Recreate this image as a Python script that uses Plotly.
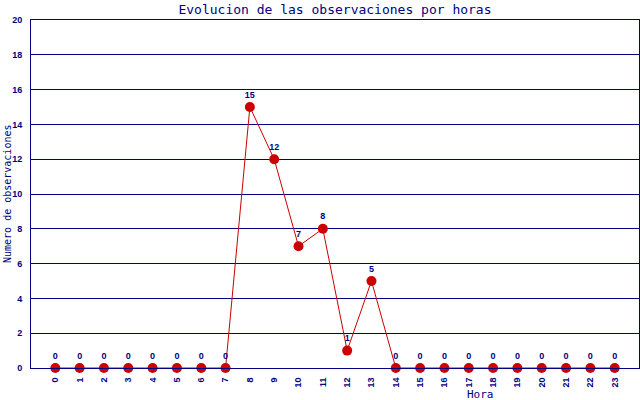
import plotly.graph_objects as go

# =====================================
# DATA
# =====================================

horas = list(range(24))

observaciones = [
    0, 0, 0, 0, 0, 0, 0, 0,
    15, 12, 7, 8, 1, 5,
    0, 0, 0, 0, 0, 0, 0, 0, 0, 0
]

hora_labels = [str(h) for h in horas]

NAVY = "#000080"
RED = "#cc0000"

# plot area in pixels (from the reference)
PLOT_LEFT = 31
PLOT_WIDTH = 608
PLOT_TOP = 20
PLOT_HEIGHT = 348

TICK_FONT = dict(family="Liberation Sans", size=9, color=NAVY, weight="bold")

fig = go.Figure()

fig.add_trace(
    go.Scatter(
        x=horas,
        y=observaciones,
        mode="lines+markers+text",
        text=[str(v) for v in observaciones],
        textposition="top center",
        textfont=TICK_FONT,
        line=dict(color=RED, width=1),
        marker=dict(color=RED, size=10),
        cliponaxis=False,
        showlegend=False
    )
)

fig.update_layout(
    width=640,
    height=400,
    margin=dict(l=PLOT_LEFT, r=1, t=PLOT_TOP, b=32, autoexpand=False),
    paper_bgcolor="white",
    plot_bgcolor="white",
    title=dict(
        text="Evolucion de las observaciones por horas",
        x=335 / 640,
        xanchor="center",
        y=1 - 9 / 400,
        yanchor="middle",
        automargin=False,
        font=dict(family="DejaVu Sans Mono", size=13, color=NAVY)
    ),
    xaxis=dict(
        range=[-1, 24],
        tickmode="array",
        tickvals=horas,
        ticktext=hora_labels,
        tickangle=-90,
        tickfont=TICK_FONT,
        showgrid=False,
        showline=True,
        linecolor=NAVY,
        linewidth=1,
        mirror=True,
        zeroline=False,
        ticks="",
        ticklabelstandoff=5,
        automargin=False
    ),
    yaxis=dict(
        range=[0, 20],
        dtick=2,
        tickfont=TICK_FONT,
        showgrid=True,
        gridcolor=NAVY,
        gridwidth=1,
        showline=True,
        linecolor=NAVY,
        linewidth=1,
        mirror=True,
        zeroline=False,
        ticks="",
        ticklabelstandoff=6,
        automargin=False
    ),
    annotations=[
        dict(
            text="Hora",
            x=(480 - PLOT_LEFT) / PLOT_WIDTH,
            xref="paper",
            xanchor="center",
            y=(PLOT_TOP + PLOT_HEIGHT - 394) / PLOT_HEIGHT,
            yref="paper",
            yanchor="middle",
            showarrow=False,
            font=dict(family="DejaVu Sans Mono", size=11, color=NAVY)
        ),
        dict(
            text="Numero de observaciones",
            x=(7 - PLOT_LEFT) / PLOT_WIDTH,
            xref="paper",
            xanchor="center",
            y=0.5,
            yref="paper",
            yanchor="middle",
            textangle=-90,
            showarrow=False,
            font=dict(family="DejaVu Sans Mono", size=10, color=NAVY)
        )
    ]
)

# the page body has a default 8px margin, drop it so the chart sits at 0,0
fig.write_html(
    "out.html",
    config={"displayModeBar": False},
    post_script="document.body.style.margin='0';"
)
